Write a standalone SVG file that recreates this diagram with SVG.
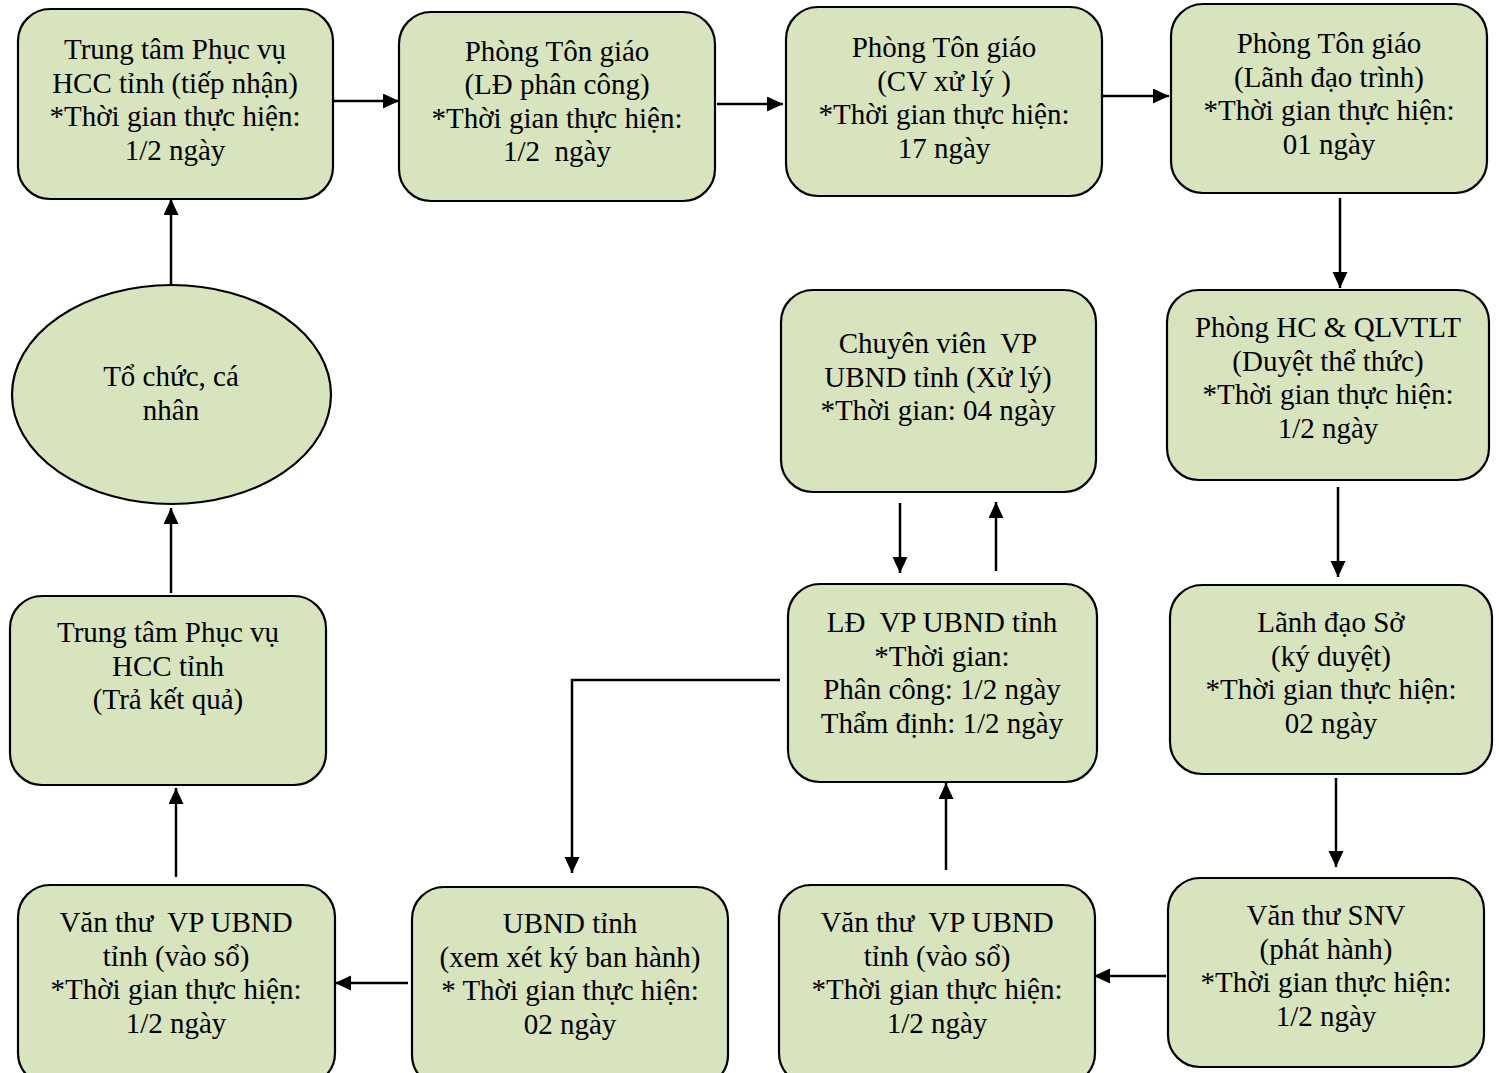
<svg xmlns="http://www.w3.org/2000/svg" width="1499" height="1073" viewBox="0 0 1499 1073">
<style>
.box{fill:#d7e4bd;stroke:#000;stroke-width:2.2}
.t{font-family:"Liberation Serif","Times New Roman",serif;font-size:29px;fill:#000;text-anchor:middle;white-space:pre}
.c{fill:none;stroke:#000;stroke-width:2.5}
</style>
<defs>
<marker id="ah" markerUnits="userSpaceOnUse" markerWidth="17" markerHeight="16" refX="16" refY="7.5" orient="auto">
<path d="M0,0 L16,7.5 L0,15 z" fill="#000"/>
</marker>
</defs>
<rect width="1499" height="1073" fill="#fff"/>
<g id="connectors">
<line class="c" x1="334" y1="101" x2="399" y2="101" marker-end="url(#ah)"/>
<line class="c" x1="717" y1="104" x2="783" y2="104" marker-end="url(#ah)"/>
<line class="c" x1="1103" y1="96" x2="1169" y2="96" marker-end="url(#ah)"/>
<line class="c" x1="1340" y1="198" x2="1340" y2="288" marker-end="url(#ah)"/>
<line class="c" x1="1338" y1="487" x2="1338" y2="577" marker-end="url(#ah)"/>
<line class="c" x1="1336" y1="778" x2="1336" y2="867" marker-end="url(#ah)"/>
<line class="c" x1="1166" y1="976" x2="1094" y2="976" marker-end="url(#ah)"/>
<line class="c" x1="946" y1="870" x2="946" y2="783" marker-end="url(#ah)"/>
<line class="c" x1="900" y1="503" x2="900" y2="573" marker-end="url(#ah)"/>
<line class="c" x1="996" y1="571" x2="996" y2="502" marker-end="url(#ah)"/>
<polyline class="c" points="780,680 572,680 572,873" marker-end="url(#ah)"/>
<line class="c" x1="408" y1="983" x2="335" y2="983" marker-end="url(#ah)"/>
<line class="c" x1="176" y1="877" x2="176" y2="788" marker-end="url(#ah)"/>
<line class="c" x1="171" y1="593" x2="171" y2="508" marker-end="url(#ah)"/>
<line class="c" x1="171" y1="285" x2="171" y2="199" marker-end="url(#ah)"/>
</g>
<g id="n1"><rect class="box" x="18" y="9" width="315" height="190" rx="32"/>
<text class="t"><tspan x="175" y="59">Trung tâm Phục vụ</tspan><tspan x="175" y="92.5">HCC tỉnh (tiếp nhận)</tspan><tspan x="175" y="126">*Thời gian thực hiện:</tspan><tspan x="175" y="159.5">1/2 ngày</tspan></text></g>
<g id="n2"><rect class="box" x="399" y="12" width="316" height="189" rx="32"/>
<text class="t"><tspan x="557" y="60.5">Phòng Tôn giáo</tspan><tspan x="557" y="94">(LĐ phân công)</tspan><tspan x="557" y="127.5">*Thời gian thực hiện:</tspan><tspan x="557" y="161">1/2  ngày</tspan></text></g>
<g id="n3"><rect class="box" x="786" y="7" width="316" height="189" rx="32"/>
<text class="t"><tspan x="944" y="57">Phòng Tôn giáo</tspan><tspan x="944" y="90.5">(CV xử lý )</tspan><tspan x="944" y="124">*Thời gian thực hiện:</tspan><tspan x="944" y="157.5">17 ngày</tspan></text></g>
<g id="n4"><rect class="box" x="1171" y="4" width="316" height="189" rx="32"/>
<text class="t"><tspan x="1329" y="53">Phòng Tôn giáo</tspan><tspan x="1329" y="86.5">(Lãnh đạo trình)</tspan><tspan x="1329" y="120">*Thời gian thực hiện:</tspan><tspan x="1329" y="153.5">01 ngày</tspan></text></g>
<g id="n5"><rect class="box" x="1167" y="290" width="322" height="190" rx="32"/>
<text class="t"><tspan x="1328" y="337">Phòng HC &amp; QLVTLT</tspan><tspan x="1328" y="370.5">(Duyệt thể thức)</tspan><tspan x="1328" y="404">*Thời gian thực hiện:</tspan><tspan x="1328" y="437.5">1/2 ngày</tspan></text></g>
<g id="n6"><rect class="box" x="781" y="290" width="315" height="202" rx="32"/>
<text class="t"><tspan x="938" y="353">Chuyên viên  VP</tspan><tspan x="938" y="386.5">UBND tỉnh (Xử lý)</tspan><tspan x="938" y="420">*Thời gian: 04 ngày</tspan></text></g>
<g id="n7"><rect class="box" x="788" y="584" width="309" height="198" rx="32"/>
<text class="t"><tspan x="942" y="632">LĐ  VP UBND tỉnh</tspan><tspan x="942" y="665.5">*Thời gian:</tspan><tspan x="942" y="699">Phân công: 1/2 ngày</tspan><tspan x="942" y="732.5">Thẩm định: 1/2 ngày</tspan></text></g>
<g id="n8"><rect class="box" x="1170" y="585" width="322" height="189" rx="32"/>
<text class="t"><tspan x="1331" y="632">Lãnh đạo Sở</tspan><tspan x="1331" y="665.5">(ký duyệt)</tspan><tspan x="1331" y="699">*Thời gian thực hiện:</tspan><tspan x="1331" y="732.5">02 ngày</tspan></text></g>
<g id="n9"><rect class="box" x="1168" y="878" width="316" height="189" rx="32"/>
<text class="t"><tspan x="1326" y="925">Văn thư SNV</tspan><tspan x="1326" y="958.5">(phát hành)</tspan><tspan x="1326" y="992">*Thời gian thực hiện:</tspan><tspan x="1326" y="1025.5">1/2 ngày</tspan></text></g>
<g id="n10"><rect class="box" x="779" y="885" width="316" height="200" rx="32"/>
<text class="t"><tspan x="937" y="932">Văn thư  VP UBND</tspan><tspan x="937" y="965.5">tỉnh (vào sổ)</tspan><tspan x="937" y="999">*Thời gian thực hiện:</tspan><tspan x="937" y="1032.5">1/2 ngày</tspan></text></g>
<g id="n11"><rect class="box" x="412" y="887" width="316" height="200" rx="32"/>
<text class="t"><tspan x="570" y="933">UBND tỉnh</tspan><tspan x="570" y="966.5">(xem xét ký ban hành)</tspan><tspan x="570" y="1000">* Thời gian thực hiện:</tspan><tspan x="570" y="1033.5">02 ngày</tspan></text></g>
<g id="n12"><rect class="box" x="18" y="885" width="317" height="200" rx="32"/>
<text class="t"><tspan x="176" y="932">Văn thư  VP UBND</tspan><tspan x="176" y="965.5">tỉnh (vào sổ)</tspan><tspan x="176" y="999">*Thời gian thực hiện:</tspan><tspan x="176" y="1032.5">1/2 ngày</tspan></text></g>
<g id="n13"><rect class="box" x="10" y="596" width="316" height="189" rx="32"/>
<text class="t"><tspan x="168" y="642">Trung tâm Phục vụ</tspan><tspan x="168" y="675.5">HCC tỉnh</tspan><tspan x="168" y="709">(Trả kết quả)</tspan></text></g>
<g id="n14"><ellipse class="box" cx="171.5" cy="394.5" rx="159.5" ry="109.5"/>
<text class="t"><tspan x="171" y="386">Tổ chức, cá</tspan><tspan x="171" y="419.5">nhân</tspan></text></g>
</svg>
